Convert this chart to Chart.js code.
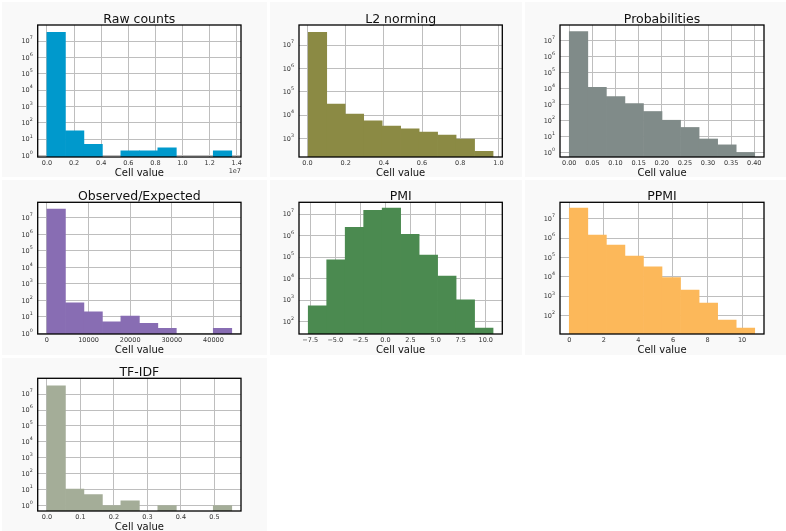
<!DOCTYPE html>
<html>
<head>
<meta charset="utf-8">
<script src="https://cdn.jsdelivr.net/npm/chart.js@4.4.1/dist/chart.umd.min.js"></script>
<style>
    html, body { margin: 0; padding: 0; background: #fff; }
    #fig { position: relative; width: 786px; height: 531px; overflow: hidden; }
    .panel { position: absolute; background: #f9f9f9; }
    #fig canvas { position: absolute; }
</style>
</head>
<body>
<div id="fig"></div>
<script>
// Histogram data (10 bins each, null = empty bin)
const histTitles = ['Raw counts', 'L2 norming', 'Probabilities', 'Observed/Expected', 'PMI', 'PPMI', 'TF-IDF'];

const rawCounts   = [3.4e7, 33, 5, null, 2, 2, 3, null, null, 2];
const l2Counts    = [3.5e7, 3.0e4, 1.1e4, 5.7e3, 3.4e3, 2.6e3, 1.9e3, 1.4e3, 940, 280];
const probCounts  = [3.8e7, 1.2e4, 3.2e3, 1150, 370, 105, 37, 7, 3, 1];
const obsCounts   = [3.5e7, 71, 20, 5, 11, 4, 2, null, null, 2];
const pmiCounts   = [550, 7.5e4, 2.4e6, 1.5e7, 1.9e7, 1.15e6, 1.25e5, 1.3e4, 1030, 51];
const ppmiCounts  = [3.5e7, 1.4e6, 4.3e5, 1.17e5, 3.3e4, 9.3e3, 2.1e3, 450, 60, 23];
const tfidfCounts = [3.3e7, 11, 5, 1, 2, null, 1, null, null, 1];

// first and last bin edge of each histogram
const rawRange   = [0, 1.363e7];
const l2Range    = [0.004, 0.972];
const probRange  = [0, 0.401];
const obsRange   = [0, 44400];
const pmiRange   = [-7.70, 10.73];
const ppmiRange  = [0, 10.73];
const tfidfRange = [0, 0.552];

// y axis limits (log)
const rawYLim   = [0.83, 9.5e7];
const l2YLim    = [162, 7.2e7];
const probYLim  = [0.52, 9.8e7];
const obsYLim   = [0.91, 8.9e7];
const pmiYLim   = [27, 3.5e7];
const ppmiYLim  = [11.4, 6.9e7];
const tfidfYLim = [0.46, 9.8e7];

// x tick values
const rawTicks   = [0, 2e6, 4e6, 6e6, 8e6, 1e7, 1.2e7, 1.4e7];
const l2Ticks    = [0, 0.2, 0.4, 0.6, 0.8, 1.0];
const probTicks  = [0, 0.05, 0.10, 0.15, 0.20, 0.25, 0.30, 0.35, 0.40];
const obsTicks   = [0, 10000, 20000, 30000, 40000];
const pmiTicks   = [-7.5, -5, -2.5, 0, 2.5, 5, 7.5, 10];
const ppmiTicks  = [0, 2, 4, 6, 8, 10];
const tfidfTicks = [0, 0.1, 0.2, 0.3, 0.4, 0.5];

const FONT = '"DejaVu Sans", sans-serif';
const GRID = '#bebebe';
const TICK_COLOR = '#333';

const panels = [
    { counts: rawCounts,   range: rawRange,   ylim: rawYLim,   ticks: rawTicks,   color: '#0099cc', fmt: v => (v / 1e7).toFixed(1), offsetText: '1e7' },
    { counts: l2Counts,    range: l2Range,    ylim: l2YLim,    ticks: l2Ticks,    color: '#8b8a44', fmt: v => v.toFixed(1) },
    { counts: probCounts,  range: probRange,  ylim: probYLim,  ticks: probTicks,  color: '#808b89', fmt: v => v.toFixed(2) },
    { counts: obsCounts,   range: obsRange,   ylim: obsYLim,   ticks: obsTicks,   color: '#886db3', fmt: v => String(v) },
    { counts: pmiCounts,   range: pmiRange,   ylim: pmiYLim,   ticks: pmiTicks,   color: '#4b8a50', fmt: v => v.toFixed(1).replace('-', '\u2212') },
    { counts: ppmiCounts,  range: ppmiRange,  ylim: ppmiYLim,  ticks: ppmiTicks,  color: '#fcb85a', fmt: v => String(v) },
    { counts: tfidfCounts, range: tfidfRange, ylim: tfidfYLim, ticks: tfidfTicks, color: '#a4ad98', fmt: v => v.toFixed(1) }
];

// layout: plot areas and background cells in page pixels
const colX = [[37.7, 241], [299, 502.3], [560, 764]];
const rowY = [[25, 157], [202.3, 334], [378.3, 511]];
const cellX = [[2, 267], [270, 522], [525, 786]];
const cellY = [[2, 177], [180, 355], [358, 531]];

const Y_W = 25, X_H = 24;

// white plot background, axes frame, title, 10^n labels, offset text (1e7)
const framePlugin = {
    id: 'frame',
    beforeDraw(chart) {
        const { ctx, chartArea: a } = chart;
        ctx.save();
        ctx.fillStyle = '#fff';
        ctx.fillRect(a.left, a.top, a.right - a.left, a.bottom - a.top);
        ctx.restore();
    },
    afterDatasetsDraw(chart, args, opts) {
        const { ctx, chartArea: a } = chart;
        ctx.save();
        ctx.strokeStyle = '#000';
        ctx.lineWidth = 1.3;
        ctx.strokeRect(a.left, a.top, a.right - a.left, a.bottom - a.top);

        ctx.fillStyle = '#111';
        ctx.font = '12.5px ' + FONT;
        ctx.textAlign = 'center';
        ctx.textBaseline = 'alphabetic';
        ctx.fillText(opts.title, (a.left + a.right) / 2, a.top - 2.5);

        // log tick labels as 10 with a raised exponent
        const ys = chart.scales.y;
        ctx.fillStyle = TICK_COLOR;
        ys.ticks.forEach(t => {
            const y = ys.getPixelForValue(t.value);
            const exp = String(Math.round(Math.log10(t.value)));
            ctx.font = '4.8px ' + FONT;
            const ew = ctx.measureText(exp).width;
            const right = a.left - 5;
            ctx.textAlign = 'left';
            ctx.textBaseline = 'middle';
            ctx.fillText(exp, right - ew, y - 3);
            ctx.font = '6.5px ' + FONT;
            ctx.textAlign = 'right';
            ctx.fillText('10', right - ew, y + 0.5);
        });

        if (opts.offsetText) {
            ctx.fillStyle = TICK_COLOR;
            ctx.font = '6.5px ' + FONT;
            ctx.textAlign = 'right';
            ctx.textBaseline = 'middle';
            ctx.fillText(opts.offsetText, a.right, a.bottom + 14.5);
        }
        ctx.restore();
    }
};

const fig = document.getElementById('fig');

cellY.forEach((cy, r) => cellX.forEach((cx, c) => {
    if (r * 3 + c >= panels.length) return;
    const d = document.createElement('div');
    d.className = 'panel';
    d.style.left = cx[0] + 'px';
    d.style.top = cy[0] + 'px';
    d.style.width = (cx[1] - cx[0]) + 'px';
    d.style.height = (cy[1] - cy[0]) + 'px';
    fig.appendChild(d);
}));

panels.forEach((p, i) => {
    const [L, R] = colX[i % 3];
    const [T, B] = rowY[Math.floor(i / 3)];
    const cx = Math.floor(L) - 36, cy = Math.floor(T) - 26;
    const cw = Math.ceil(R) + 12 - cx, ch = Math.ceil(B) + 30 - cy;

    const canvas = document.createElement('canvas');
    canvas.width = cw;
    canvas.height = ch;
    canvas.style.left = cx + 'px';
    canvas.style.top = cy + 'px';
    fig.appendChild(canvas);

    const [lo, hi] = p.range;
    const binW = (hi - lo) / p.counts.length;
    const data = p.counts.map((v, k) => ({ x: lo + (k + 0.5) * binW, y: v }));
    const span = hi - lo;

    const logTicks = [];
    for (let e = Math.ceil(Math.log10(p.ylim[0]) - 1e-9); e <= Math.floor(Math.log10(p.ylim[1])); e++) {
        logTicks.push(Math.pow(10, e));
    }

    new Chart(canvas.getContext('2d'), {
        type: 'bar',
        data: {
            datasets: [{
                data: data,
                backgroundColor: p.color,
                borderWidth: 0,
                barPercentage: 1,
                categoryPercentage: 1
            }]
        },
        plugins: [framePlugin],
        options: {
            responsive: false,
            animation: false,
            devicePixelRatio: 1,
            layout: {
                padding: {
                    left: L - cx - Y_W,
                    top: T - cy,
                    right: cx + cw - R,
                    bottom: cy + ch - B - X_H
                }
            },
            scales: {
                x: {
                    type: 'linear',
                    offset: false,
                    min: lo - 0.05 * span,
                    max: hi + 0.05 * span,
                    afterBuildTicks: axis => { axis.ticks = p.ticks.map(v => ({ value: v })); },
                    afterFit: axis => { axis.height = X_H; },
                    grid: { offset: false, color: GRID, lineWidth: 1, drawTicks: false, tickLength: 0 },
                    border: { display: false },
                    ticks: {
                        autoSkip: false,
                        maxRotation: 0,
                        padding: 2,
                        color: TICK_COLOR,
                        font: { family: FONT, size: 6.5 },
                        callback: v => p.fmt(v)
                    },
                    title: {
                        display: true,
                        text: 'Cell value',
                        color: '#111',
                        font: { family: FONT, size: 10, lineHeight: 1.2 },
                        padding: { top: 0, bottom: 1.4 }
                    }
                },
                y: {
                    type: 'logarithmic',
                    min: p.ylim[0],
                    max: p.ylim[1],
                    afterBuildTicks: axis => { axis.ticks = logTicks.map(v => ({ value: v })); },
                    afterFit: axis => { axis.width = Y_W; },
                    grid: { color: GRID, lineWidth: 1, drawTicks: false, tickLength: 0 },
                    border: { display: false },
                    ticks: { display: false }
                }
            },
            plugins: {
                legend: { display: false },
                tooltip: { enabled: false },
                frame: { title: histTitles[i], offsetText: p.offsetText }
            }
        }
    });
});
</script>
</body>
</html>
